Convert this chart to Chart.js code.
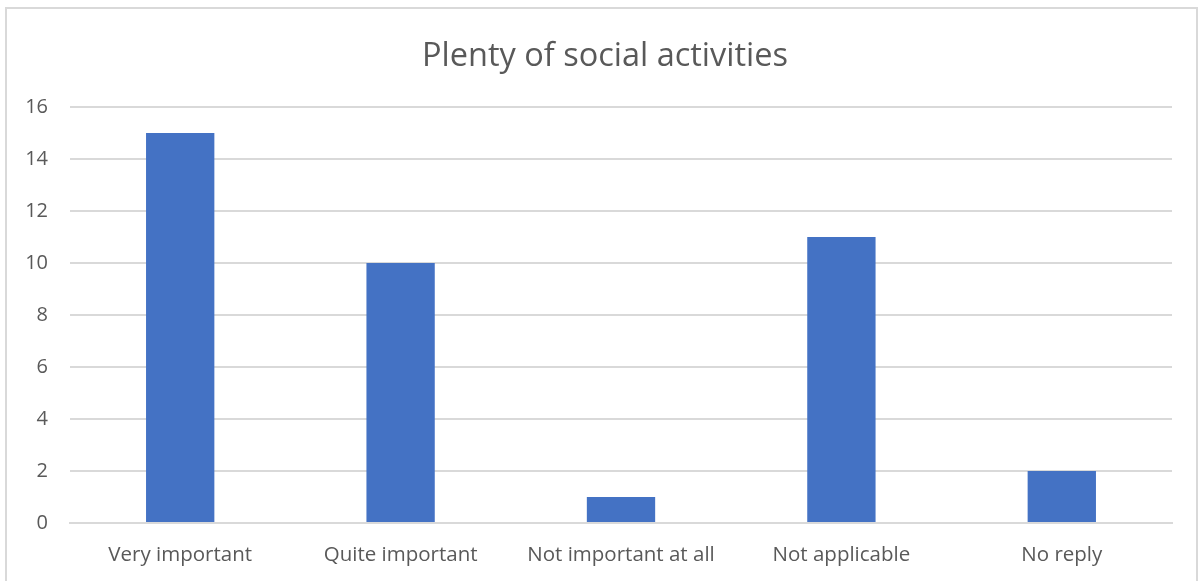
<!DOCTYPE html>
<html>
<head>
<meta charset="utf-8">
<script src="https://cdn.jsdelivr.net/npm/chart.js@4.4.1/dist/chart.umd.min.js"></script>
<style>
    html, body { margin: 0; padding: 0; background: #fff; }
    #wrap { position: relative; width: 1201px; height: 581px; overflow: hidden; }
    #frame { position: absolute; left: 5px; top: 7px; width: 1193px; height: 590px; border: 2px solid #d9d9d9; box-sizing: border-box; }
    #chart { position: absolute; left: 0; top: 0; }
</style>
</head>
<body>
<div id="wrap">
    <div id="frame"></div>
    <canvas id="chart" width="1201" height="581"></canvas>
</div>
<script>
// survey answers
const categories = ['Very important', 'Quite important', 'Not important at all', 'Not applicable', 'No reply'];
const counts = [15, 10, 1, 11, 2];
const yTicks = [0, 2, 4, 6, 8, 10, 12, 14, 16];

const textColor = '#595959';
const gridColor = '#d9d9d9';
const fontFamily = '"Open Sans", "Noto Sans", sans-serif';

const ctx = document.getElementById('chart').getContext('2d');

const chart = new Chart(ctx, {
    type: 'bar',
    data: {
        labels: categories,
        datasets: [{
            label: 'Plenty of social activities',
            data: counts,
            backgroundColor: '#4472c4',
            borderWidth: 0,
            categoryPercentage: 1,
            barPercentage: 0.31
        }]
    },
    options: {
        responsive: false,
        animation: false,
        layout: {
            padding: { left: 10, right: 1, top: 0, bottom: 0 }
        },
        plugins: {
            legend: { display: false },
            tooltip: { enabled: false },
            title: {
                display: true,
                text: 'Plenty of social activities',
                color: textColor,
                font: { family: fontFamily, size: 32.5, weight: 'normal', lineHeight: 1.2 },
                padding: { top: 37, bottom: 31 }
            }
        },
        scales: {
            x: {
                grid: { display: false, drawTicks: false },
                border: { display: true, color: gridColor, width: 2 },
                ticks: {
                    color: textColor,
                    font: { family: fontFamily, size: 20.5 },
                    padding: 20,
                    maxRotation: 0
                },
                afterFit: s => { s.height = 58; }
            },
            y: {
                min: 0,
                max: 16,
                grid: { color: gridColor, lineWidth: 2, drawTicks: false },
                border: { display: false },
                afterBuildTicks: s => { s.ticks = yTicks.map(v => ({ value: v })); },
                ticks: {
                    color: textColor,
                    font: { family: fontFamily, size: 20 },
                    padding: 22
                },
                afterFit: s => { s.width = 60; }
            },
            // empty right-hand gutter so the plot ends short of the frame
            gutter: {
                type: 'linear',
                position: 'right',
                grid: { display: false, drawTicks: false },
                border: { display: false },
                ticks: { display: false },
                afterFit: s => { s.width = 28; }
            }
        }
    }
});
</script>
</body>
</html>
